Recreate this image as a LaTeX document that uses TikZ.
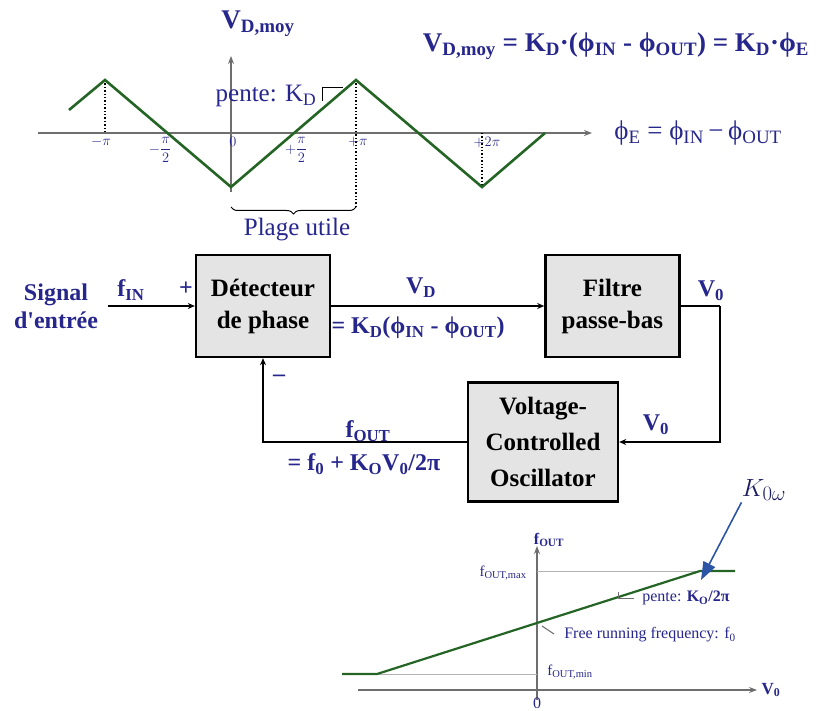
\documentclass[tikz,border=0pt]{standalone}
\usepackage{fontspec}
\setmainfont{Liberation Serif}
\usepackage{tikz}
\usetikzlibrary{
  arrows.meta,
  positioning,
  decorations.pathreplacing
}
\definecolor{LabelBlue}{RGB}{38,38,140}
\definecolor{CurveGreen}{RGB}{36,100,36}
\definecolor{AxisGray}{RGB}{110,110,110}
\definecolor{GuideGray}{RGB}{178,178,178}
\definecolor{BoxGray}{RGB}{228,228,228}
\definecolor{PointerBlue}{RGB}{45,85,165}
\newcommand{\sbs}[1]{\textsubscript{#1}}
\tikzset{
  blockbox/.style={draw=black,line width=2.4pt,fill=BoxGray,minimum width=134pt,minimum height=102pt,align=center,font=\fontsize{25}{32}\selectfont\bfseries},
  siglabel/.style={text=LabelBlue,align=center,font=\fontsize{24}{28}\selectfont\bfseries},
  plotlabel/.style={text=LabelBlue,font=\fontsize{25}{28}\selectfont},
  ticklabel/.style={text=LabelBlue,font=\fontsize{14}{15}\selectfont,inner sep=1pt},
  smalllabel/.style={text=LabelBlue,font=\fontsize{16}{17}\selectfont,inner sep=1pt},
  sigarrow/.style={-{Stealth[length=7pt,width=6pt]},line width=2pt},
  axisline/.style={-{Stealth[length=8pt,width=6pt]},line width=2pt,draw=AxisGray},
  curve/.style={line width=2.6pt,draw=CurveGreen},
  guide/.style={line width=1pt,draw=GuideGray},
  dropline/.style={dotted,line width=1.4pt}
}

\begin{document}
\begin{tikzpicture}[x=1pt,y=-1pt]
\useasboundingbox (0,0) rectangle (819,711);
% phase detector characteristic
\draw[axisline] (38,133) -- (592,133);
\draw[axisline] (231,192) -- (231,56);
\draw[dropline] (105,80) -- (105,133);
\draw[dropline] (356,80) -- (356,207);
\draw[dropline] (482,133) -- (482,187);
\draw[curve] (69,110) -- (105,80) -- (231,187) -- (356,80) -- (482,187) -- (545,133);
\draw[line width=1pt] (322,101) -- (322,88) -- (343,88);
\draw[decorate,decoration={brace,amplitude=7pt},line width=1pt] (356,207) -- (231,207);
\node[siglabel,font=\fontsize{27}{30}\selectfont\bfseries] (vdmoy) at (258,24) {V\sbs{D,moy}};
\node[plotlabel] (pkd) at (266,96) {pente: K\sbs{D}};
\node[plotlabel] (plage) at (297,230) {Plage utile};
\node[siglabel,font=\fontsize{27}{30}\selectfont\bfseries] (vdeq) at (616,46) {V\sbs{D,moy} = K\sbs{D}·(ϕ\sbs{IN} - ϕ\sbs{OUT}) = K\sbs{D}·ϕ\sbs{E}};
\node[plotlabel,font=\fontsize{27}{30}\selectfont] (phieq) at (698,133) {ϕ\sbs{E} = ϕ\sbs{IN}\,−\,ϕ\sbs{OUT}};
\node[ticklabel] (tmpi) at (101,142) {$-\pi$};
\node[ticklabel] (tmhalf) at (160,150) {$-\displaystyle\frac{\pi}{2}$};
\node[ticklabel] (tzero) at (233,142) {$0$};
\node[ticklabel] (tphalf) at (296,150) {$+\displaystyle\frac{\pi}{2}$};
\node[ticklabel] (tppi) at (358,142) {$+\pi$};
\node[ticklabel] (tptwo) at (487,142) {$+2\pi$};

% loop
\node[blockbox] (det) at (263,306) {Détecteur\\de phase};
\node[blockbox, right=213pt of det] (filt) {Filtre\\passe-bas};
\node[blockbox, minimum width=150pt, minimum height=119pt, font=\fontsize{25}{36}\selectfont\bfseries] (vco) at (543,442) {Voltage-\\Controlled\\Oscillator};
\node[siglabel] (sig) at (56,306) {Signal\\d\textquotesingle entrée};
\coordinate (rt) at (720,306);
\draw[sigarrow] ([xshift=6pt]sig.east) -- (det.west);
\draw[sigarrow] (det.east) -- (filt.west);
\draw[line width=2pt] (filt.east) -- (rt);
\draw[sigarrow] (rt) |- (vco.east);
\draw[sigarrow] (vco.west) -| (det.south);
\node[siglabel] (fin) at (131,290) {f\sbs{IN}};
\node[siglabel] (plus) at (186,289) {+};
\node[siglabel] (minus) at (279,378) {–};
\node[siglabel] (vd) at (421,288) {V\sbs{D}};
\node[siglabel] (vdval) at (418,328) {= K\sbs{D}(ϕ\sbs{IN} - ϕ\sbs{OUT})};
\node[siglabel] (vzero) at (711,291) {V\sbs{0}};
\node[siglabel] (vzerob) at (656,425) {V\sbs{0}};
\node[siglabel] (fout) at (368,431) {f\sbs{OUT}};
\node[siglabel] (foutval) at (364,464) {= f\sbs{0} + K\sbs{O}V\sbs{0}/2π};

% VCO characteristic
\draw[axisline,line width=1.3pt] (358,690) -- (757,690);
\draw[axisline,line width=1.3pt] (537,700) -- (537,546);
\draw[guide] (537,571) -- (700,571);
\draw[guide] (377,674) -- (537,674);
\draw[curve,line width=2.2pt] (342,674) -- (377,674) -- (700,571) -- (735,571);
\draw[line width=1pt,draw=AxisGray] (618,592) -- (618,598) -- (634,598);
\draw[line width=1pt,draw=AxisGray] (542,626) -- (554,634);
\node[smalllabel,font=\fontsize{16}{17}\selectfont\bfseries] (foutax) at (549,540) {f\sbs{OUT}};
\node[smalllabel,font=\fontsize{15}{16}\selectfont] (foutmax) at (503,573) {f\sbs{OUT,max}};
\node[smalllabel,font=\fontsize{15}{16}\selectfont] (foutmin) at (570,672) {f\sbs{OUT,min}};
\node[smalllabel,inner sep=0pt] (vzeroax) at (537,703) {0};
\node[smalllabel,font=\fontsize{17}{18}\selectfont\bfseries] (vzeroaxis) at (771,690) {V\sbs{0}};
\node[smalllabel] (pko) at (686,598) {pente: \textbf{K\sbs{O}/2π}};
\node[smalllabel] (free) at (650,635) {Free running frequency: f\sbs{0}};
\node[text=LabelBlue!70!black,font=\fontsize{28}{30}\selectfont] (kzero) at (764,490) {$K_{0\omega}$};
\coordinate (kpt) at (701,580);
\draw[-{Triangle[length=18pt,width=13pt]},line width=1.6pt,draw=PointerBlue,fill=PointerBlue] ([xshift=3pt,yshift=2pt]kzero.south west) -- (kpt);
\end{tikzpicture}
\end{document}
